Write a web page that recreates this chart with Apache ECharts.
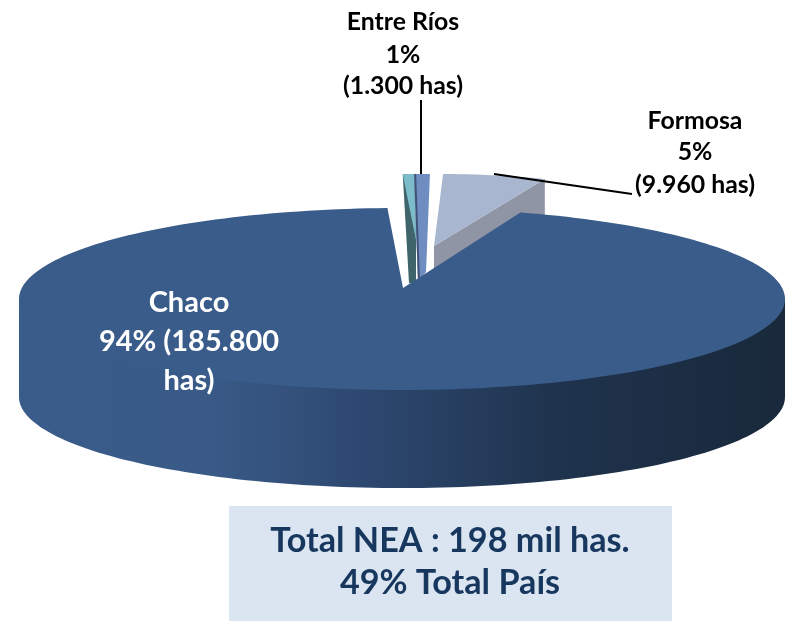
<!DOCTYPE html>
<html><head><meta charset="utf-8">
<style>html,body{margin:0;padding:0;background:#fff}#c{width:791px;height:624px}</style>
<script src="https://cdn.jsdelivr.net/npm/echarts@6/dist/echarts.min.js"></script>
</head><body><div id="c"></div>
<script>
const categories = ['Chaco', 'Sin rótulo', 'Entre Ríos', 'Formosa'];
const hectares = [185800, 940, 1300, 9960];
const firstSliceAngle = 19;
const entreRiosLabel = ['Entre Ríos', '1%', '(1.300 has)'];
const formosaLabel = ['Formosa', '5%', '(9.960 has)'];
const chacoLabel = ['Chaco', '94% (185.800', 'has)'];
const totalLabel = ['Total NEA : 198 mil has.', '49% Total País'];

const FONT = 'Lato, "Open Sans", sans-serif';
const total = hectares.reduce((a, b) => a + b, 0);
const spans = []; let acc = firstSliceAngle;
hectares.forEach(v => { const s = v / total * 360; spans.push([acc, acc + s]); acc += s; });

const looks = [
  {cx:402,cy:299,ax:403,ay:288,rx:383,ry:91,depth:98,pad:1},
  {cx:424,cy:265,ax:416,ay:240,rx:383,ry:91,body:[[409,283],[416,283],[416,240]],top:'#7dbccb',wall:'#3f6469'},
  {cx:424,cy:265,ax:420,ay:272,rx:383,ry:91,body:[[418,282],[426,272]],wall:'#6f8dc0',edge:'#3f5478'},
  {cx:438,cy:265,ax:434,ay:246,rx:328,ry:91,top:'#a9b6cf',wall:'#9095a6',wallDepth:60}
];
const rad = d => d * Math.PI / 180;
const rim = (l, deg) => [l.cx + Math.sin(rad(deg)) * l.rx, l.cy - Math.cos(rad(deg)) * l.ry];
function arc(l, a, b, dy) {
  const out = [], n = Math.max(2, Math.ceil(Math.abs(b - a) / 1.5));
  for (let i = 0; i <= n; i++) { const p = rim(l, a + (b - a) * i / n); out.push([p[0], p[1] + (dy || 0)]); }
  return out;
}
function poly(points, fill) { return {type:'polygon', shape:{points}, style:{fill}}; }

function renderItem(params, api) {
  const i = api.value(0), l = looks[i], pad = l.pad || 0, a = api.value(1) - pad, b = api.value(2) + pad, kids = [];
  if (i === 0) {
    const grad = new echarts.graphic.LinearGradient(0,0,1,0,[
      {offset:0,color:'#3a5c8a'},{offset:.25,color:'#395a87'},{offset:.45,color:'#2d4870'},
      {offset:.7,color:'#1f334d'},{offset:1,color:'#19293b'}]);
    kids.push(poly(arc(l, 90, 270, l.depth).concat([[l.cx - l.rx, l.cy], [l.cx + l.rx, l.cy]]), grad));
    kids.push(poly([[l.ax, l.ay]].concat(arc(l, a, b)), '#3a5c8a'));
  } else if (i === 3) {
    const end = rim(l, b);
    kids.push(poly([[l.ax,l.ay],end,[end[0],end[1]+l.wallDepth],[l.ax,l.ay+l.wallDepth]], l.wall));
    kids.push(poly([[l.ax,l.ay]].concat(arc(l, a, b)), l.top));
  } else {
    const start = rim(l, a), end = rim(l, b);
    kids.push(poly([start].concat(l.body, [end]), l.wall));
    if (l.top) kids.push(poly([[l.ax,l.ay]].concat(arc(l, a, b)), l.top));
    if (l.edge) kids.push({type:'line', shape:{x1:start[0]+1,y1:start[1],x2:l.body[0][0]+1,y2:l.body[0][1]}, style:{stroke:l.edge,lineWidth:2}});
  }
  return {type:'group', children:kids};
}

function textBlock(lines, x, ys, fill, size) {
  return lines.map((t, i) => ({type:'text', z:20, style:{text:t, x, y:ys[i], fill, align:'center', verticalAlign:'middle',
    font:'bold '+size+'px '+FONT}}));
}
const drawOrder = [3, 1, 2, 0];
const chart = echarts.init(document.getElementById('c'), null, {renderer:'canvas'});
chart.setOption({
  animation:false,
  backgroundColor:'#fff',
  series:[{
    type:'custom', coordinateSystem:'none', renderItem, silent:true,
    data: drawOrder.map(i => ({name:categories[i], value:[i, spans[i][0], spans[i][1], hectares[i]]}))
  }],
  graphic:[
    {type:'rect', z:10, shape:{x:229,y:506,width:443,height:115}, style:{fill:'#dbe5f1'}},
    {type:'line', z:15, shape:{x1:421,y1:100,x2:421,y2:174}, style:{stroke:'#000',lineWidth:2}},
    {type:'line', z:15, shape:{x1:494,y1:174,x2:632,y2:194}, style:{stroke:'#000',lineWidth:2}},
    ...textBlock(entreRiosLabel, 403, [22,55,86], '#000', 24.8),
    ...textBlock(formosaLabel, 695, [121,152,185], '#000', 24.8),
    ...textBlock(chacoLabel, 189, [303,342,381], '#fff', 29),
    ...textBlock(totalLabel, 450, [541,583], '#17375e', 34.2)
  ]
});
</script></body></html>
